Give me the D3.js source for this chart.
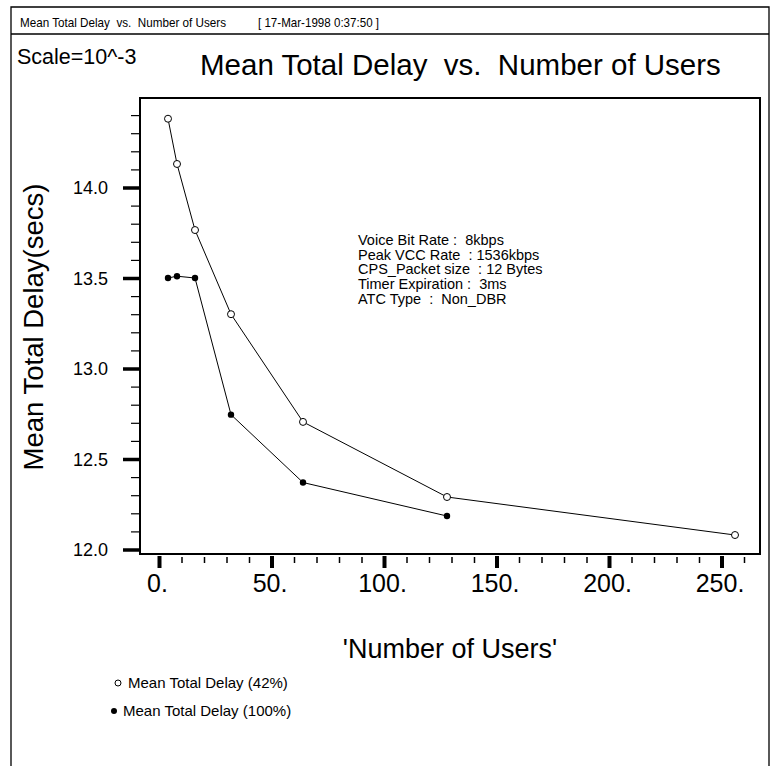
<!DOCTYPE html>
<html>
<head>
<meta charset="utf-8">
<script src="https://cdn.jsdelivr.net/npm/d3@7"></script>
<style>
  html, body { margin: 0; padding: 0; background: #fff; }
  svg { display: block; }
  text { font-family: "Liberation Sans", Arial, Helvetica, sans-serif; fill: #000; white-space: pre; }
</style>
</head>
<body>
<svg id="chart" width="775" height="766"></svg>
<script>
// ---- data ----
const users42 = [4, 8, 16, 32, 64, 128, 256];
const delay42 = [14.38, 14.13, 13.765, 13.30, 12.705, 12.29, 12.08];
const users100 = [4, 8, 16, 32, 64, 128];
const delay100 = [13.50, 13.51, 13.50, 12.745, 12.37, 12.185];
const xTicks = [0, 50, 100, 150, 200, 250];
const xTickLabels = ["0.", "50.", "100.", "150.", "200.", "250."];
const yTicks = [12.0, 12.5, 13.0, 13.5, 14.0];
const yTickLabels = ["12.0", "12.5", "13.0", "13.5", "14.0"];
const headerText = "Mean Total Delay  vs.  Number of Users";
const headerDate = "[ 17-Mar-1998 0:37:50 ]";
const scaleText = "Scale=10^-3";
const titleText = "Mean Total Delay  vs.  Number of Users";
const xTitle = "'Number of Users'";
const yTitle = "Mean Total Delay(secs)";
const notes = [
  "Voice Bit Rate :  8kbps",
  "Peak VCC Rate  : 1536kbps",
  "CPS_Packet size  : 12 Bytes",
  "Timer Expiration :  3ms",
  "ATC Type  :  Non_DBR"
];
const legendLabels = ["Mean Total Delay (42%)", "Mean Total Delay (100%)"];

// ---- layout ----
const svg = d3.select("#chart");
const box = { left: 140, top: 98, right: 760, bottom: 554 };

const x = d3.scaleLinear().domain([0, 250]).range([159, 721.5]);
const y = d3.scaleLinear().domain([12, 14]).range([549.5, 187.5]);

svg.append("rect").attr("width", 775).attr("height", 766).attr("fill", "#fff");

// outer frame
svg.append("path")
  .attr("d", "M11,770 V7 H769 V770")
  .attr("fill", "none").attr("stroke", "#000").attr("stroke-width", 1.3);
svg.append("line").attr("x1", 11).attr("x2", 769).attr("y1", 34).attr("y2", 34)
  .attr("stroke", "#000").attr("stroke-width", 1.3);

// header
svg.append("text").attr("x", 20).attr("y", 27).attr("font-size", 13)
  .attr("textLength", 206).attr("lengthAdjust", "spacingAndGlyphs").text(headerText);
svg.append("text").attr("x", 258).attr("y", 27).attr("font-size", 13)
  .attr("textLength", 121).attr("lengthAdjust", "spacingAndGlyphs").text(headerDate);

svg.append("text").attr("x", 17).attr("y", 64).attr("font-size", 21.5).text(scaleText);
svg.append("text").attr("x", 200).attr("y", 75).attr("font-size", 29.5).text(titleText);

// plot box
svg.append("rect")
  .attr("x", box.left).attr("y", box.top)
  .attr("width", box.right - box.left).attr("height", box.bottom - box.top)
  .attr("fill", "none").attr("stroke", "#000").attr("stroke-width", 2);

// y axis
const yMinor = d3.range(12.1, 14.45, 0.1).filter(v => Math.abs(v * 2 - Math.round(v * 2)) > 1e-6);
const yMinorAxis = d3.axisLeft(y).tickValues(yMinor).tickSize(8).tickFormat("");
const gyMinor = svg.append("g").attr("transform", `translate(${box.left - 1},0)`).call(yMinorAxis);
gyMinor.select(".domain").remove();
gyMinor.selectAll("line").attr("stroke", "#000").attr("stroke-width", 1.2);

const yAxis = d3.axisLeft(y).tickValues(yTicks).tickSize(16)
  .tickFormat((d, i) => yTickLabels[i]).tickPadding(15);
const gy = svg.append("g").attr("transform", `translate(${box.left - 1},0)`).call(yAxis);
gy.select(".domain").remove();
gy.selectAll("line").attr("stroke", "#000").attr("stroke-width", 3.5);
gy.selectAll("text").attr("font-size", 18).attr("font-family", null).attr("dy", "0.36em")
  .attr("x", -31);

// x axis
const xMinor = d3.range(10, 261, 10).filter(v => v % 50 !== 0);
const xMinorAxis = d3.axisBottom(x).tickValues(xMinor).tickSize(6).tickFormat("");
const gxMinor = svg.append("g").attr("transform", `translate(0,${box.bottom + 3})`).call(xMinorAxis);
gxMinor.select(".domain").remove();
gxMinor.selectAll("line").attr("stroke", "#000").attr("stroke-width", 1.5);

const xAxis = d3.axisBottom(x).tickValues(xTicks).tickSize(12)
  .tickFormat((d, i) => xTickLabels[i]);
const gx = svg.append("g").attr("transform", `translate(0,${box.bottom + 2})`).call(xAxis);
gx.select(".domain").remove();
gx.selectAll("line").attr("stroke", "#000").attr("stroke-width", 4);
gx.selectAll("text").attr("font-size", 25).attr("font-family", null)
  .attr("y", 36).attr("dy", 0).attr("dx", -2);

// axis titles
svg.append("text").attr("x", 450).attr("y", 658).attr("font-size", 27)
  .attr("text-anchor", "middle").text(xTitle);
svg.append("text").attr("transform", "translate(43,327) rotate(-90)")
  .attr("font-size", 27.5).attr("text-anchor", "middle").text(yTitle);

// notes
const gNotes = svg.append("g");
notes.forEach((t, i) => {
  gNotes.append("text").attr("x", 358).attr("y", 245 + i * 14.7)
    .attr("font-size", 14.5).text(t);
});

// series
const line = d3.line().x(d => x(d[0])).y(d => y(d[1]));
const s42 = users42.map((u, i) => [u, delay42[i]]);
const s100 = users100.map((u, i) => [u, delay100[i]]);

svg.append("path").datum(s42).attr("d", line)
  .attr("fill", "none").attr("stroke", "#000").attr("stroke-width", 1);
svg.append("path").datum(s100).attr("d", line)
  .attr("fill", "none").attr("stroke", "#000").attr("stroke-width", 1);

svg.selectAll("circle.o").data(s42).enter().append("circle")
  .attr("class", "o").attr("cx", d => x(d[0])).attr("cy", d => y(d[1])).attr("r", 3.5)
  .attr("fill", "#fff").attr("stroke", "#000").attr("stroke-width", 1);
svg.selectAll("circle.f").data(s100).enter().append("circle")
  .attr("class", "f").attr("cx", d => x(d[0])).attr("cy", d => y(d[1])).attr("r", 3.2)
  .attr("fill", "#000");

// legend
svg.append("circle").attr("cx", 118).attr("cy", 683).attr("r", 3)
  .attr("fill", "#fff").attr("stroke", "#000").attr("stroke-width", 1);
svg.append("text").attr("x", 128).attr("y", 688).attr("font-size", 15).text(legendLabels[0]);
svg.append("circle").attr("cx", 114).attr("cy", 711).attr("r", 3).attr("fill", "#000");
svg.append("text").attr("x", 123).attr("y", 716).attr("font-size", 15).text(legendLabels[1]);
</script>
</body>
</html>
